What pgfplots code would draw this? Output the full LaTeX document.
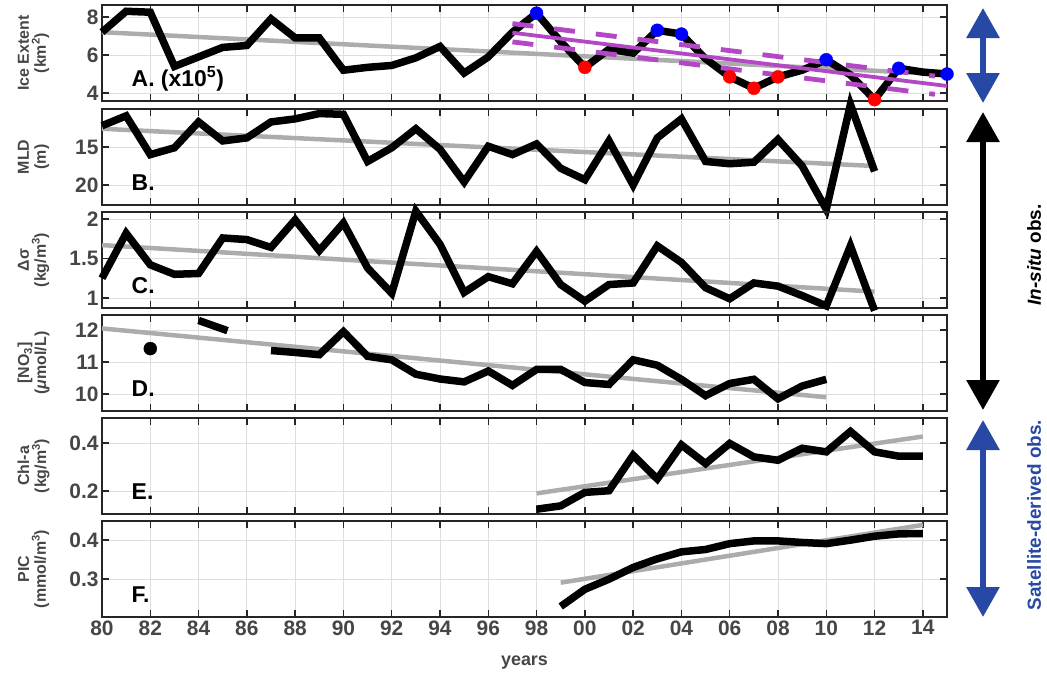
\documentclass[border=0pt]{standalone}
\usepackage{pgfplots}
\pgfplotsset{compat=1.18}
\usepackage{fontspec}
\setmainfont{Liberation Sans}
\usetikzlibrary{arrows.meta}
\definecolor{trend}{RGB}{172,172,172}
\definecolor{mag}{RGB}{178,72,196}
\definecolor{arrblue}{RGB}{40,72,165}
\definecolor{lab}{RGB}{70,70,70}
\pgfplotsset{
  panel/.style={
    scale only axis, width=845bp, height=96bp,
    xmin=80, xmax=115,
    xtick={80,82,...,114},
    xticklabels={},
    grid=major,
    major grid style={line width=0.8bp, black!13},
    axis line style={line width=1.4bp, black!85},
    major tick style={line width=1.4bp, black!85},
    major tick length=7bp,
    tick align=inside,
    clip=false,
    anchor=north west,
    /pgf/number format/assume math mode=true,
    ticklabel style={font=\fontsize{21}{21}\selectfont\bfseries, color=lab},
    ylabel style={at={(axis description cs:-0.081,0.5)}, anchor=center, align=center,
      font=\fontsize{16}{17}\selectfont\bfseries, color=lab},
  },
  blk/.style={black, line width=7.5bp, no markers},
  trd/.style={trend, line width=4.5bp, no markers},
}
\newcommand{\plabel}[1]{\node[anchor=west, font=\fontsize{23}{23}\selectfont\bfseries] at (axis description cs:0.031,0.23) {#1};}
\begin{document}
\begin{tikzpicture}
\path[use as bounding box] (0,0) rectangle (1047bp,-677bp);

% ---------- A ----------
\begin{axis}[panel, at={(102bp,-5bp)}, ymin=3.58, ymax=8.63, ytick={4,6,8},
  ylabel={Ice Extent\\(km\textsuperscript{2})}]
\addplot[trd] coordinates {(80,7.2) (115,4.98)};
\addplot[blk] coordinates {
(80,7.2) (81,8.3) (82,8.25) (83,5.4) (84,5.9) (85,6.4) (86,6.5) (87,7.9) (88,6.9) (89,6.9)
(90,5.2) (91,5.35) (92,5.45) (93,5.85) (94,6.45) (95,5.05) (96,5.9) (97,7.2) (98,8.2) (99,6.7)
(100,5.35) (101,6.3) (102,6.1) (103,7.3) (104,7.1) (105,5.8) (106,4.85) (107,4.25) (108,4.85) (109,5.2)
(110,5.75) (111,4.95) (112,3.65) (113,5.3) (114,5.1) (115,5.0)};
\addplot[mag, line width=3.8bp, no markers] coordinates {(97,7.17) (115,4.37)};
\addplot[mag, line width=4.8bp, no markers, dash pattern=on 21bp off 21bp] coordinates {(97,7.65) (114.5,4.89)};
\addplot[mag, line width=4.8bp, no markers, dash pattern=on 21bp off 21bp] coordinates {(97,6.69) (114.5,3.93)};
\addplot[only marks, mark=*, mark size=6.5bp, blue, mark options={fill=blue, draw=blue}] coordinates {
(98,8.2) (103,7.3) (104,7.1) (110,5.75) (113,5.3) (115,5.0)};
\addplot[only marks, mark=*, mark size=6.5bp, red, mark options={fill=red, draw=red}] coordinates {
(100,5.35) (106,4.85) (107,4.25) (108,4.85) (112,3.65)};
\plabel{A. (x10\textsuperscript{5})}
\end{axis}

% ---------- B ----------
\begin{axis}[panel, at={(102bp,-109bp)}, y dir=reverse, ymin=10, ymax=22.63, ytick={15,20},
  ylabel={MLD\\(m)}]
\addplot[trd] coordinates {(80,12.6) (112,17.5)};
\addplot[blk] coordinates {
(80,12.2) (81,10.9) (82,16.0) (83,15.1) (84,11.7) (85,14.2) (86,13.8) (87,11.7) (88,11.3) (89,10.6)
(90,10.7) (91,16.9) (92,15.1) (93,12.6) (94,15.3) (95,19.6) (96,14.9) (97,16.0) (98,14.6) (99,17.8)
(100,19.3) (101,14.2) (102,20.0) (103,13.8) (104,11.3) (105,16.9) (106,17.2) (107,17.0) (108,14.0) (109,17.5)
(110,23.2) (111,9.4) (112,18.2)};
\plabel{B.}
\end{axis}

% ---------- C ----------
\begin{axis}[panel, at={(102bp,-212bp)}, ymin=0.873, ymax=2.089, ytick={1,1.5,2},
  ylabel={Δσ\\(kg/m\textsuperscript{3})}]
\addplot[trd] coordinates {(80,1.67) (112,1.08)};
\addplot[blk] coordinates {
(80,1.25) (81,1.82) (82,1.42) (83,1.3) (84,1.31) (85,1.76) (86,1.74) (87,1.64) (88,1.99) (89,1.6)
(90,1.95) (91,1.38) (92,1.06) (93,2.1) (94,1.68) (95,1.07) (96,1.27) (97,1.18) (98,1.59) (99,1.17)
(100,0.96) (101,1.17) (102,1.19) (103,1.66) (104,1.45) (105,1.13) (106,0.99) (107,1.19) (108,1.15) (109,1.03)
(110,0.9) (111,1.66) (112,0.84)};
\plabel{C.}
\end{axis}

% ---------- D ----------
\begin{axis}[panel, at={(102bp,-315bp)}, ymin=9.47, ymax=12.47, ytick={10,11,12},
  ylabel={[NO\textsubscript{3}]\\(\textit{μ}mol/L)}]
\addplot[trd] coordinates {(80,12.05) (110,9.9)};
\addplot[only marks, mark=*, mark size=6.5bp, black] coordinates {(82,11.42)};
\addplot[blk] coordinates {(84,12.3) (85.2,11.98)};
\addplot[blk] coordinates {
(87,11.36) (88,11.3) (89,11.23) (90,11.95) (91,11.18) (92,11.07) (93,10.62) (94,10.47) (95,10.38) (96,10.72)
(97,10.27) (98,10.77) (99,10.77) (100,10.36) (101,10.3) (102,11.07) (103,10.9) (104,10.46) (105,9.95) (106,10.33)
(107,10.46) (108,9.85) (109,10.25) (110,10.46)};
\plabel{D.}
\end{axis}

% ---------- E ----------
\begin{axis}[panel, at={(102bp,-418bp)}, ymin=0.104, ymax=0.504, ytick={0.2,0.4},
  ylabel={Chl-a\\(kg/m\textsuperscript{3})}]
\addplot[trd] coordinates {(98,0.19) (114,0.427)};
\addplot[blk] coordinates {
(98,0.124) (99,0.138) (100,0.194) (101,0.201) (102,0.349) (103,0.25) (104,0.392) (105,0.314) (106,0.398) (107,0.342)
(108,0.328) (109,0.378) (110,0.363) (111,0.448) (112,0.363) (113,0.345) (114,0.345)};
\plabel{E.}
\end{axis}

% ---------- F ----------
\begin{axis}[panel, at={(102bp,-521bp)}, ymin=0.203, ymax=0.449, ytick={0.3,0.4},
  ylabel={PIC\\(mmol/m\textsuperscript{3})},
  xticklabels={80,82,84,86,88,90,92,94,96,98,00,02,04,06,08,10,12,14},
  xlabel={years},
  xlabel style={font=\fontsize{18}{18}\selectfont\bfseries, color=lab, yshift=-14bp}]
\addplot[trd] coordinates {(99,0.291) (114,0.439)};
\addplot[blk] coordinates {
(99,0.23) (100,0.274) (101,0.30) (102,0.33) (103,0.352) (104,0.37) (105,0.376) (106,0.391) (107,0.398) (108,0.398)
(109,0.394) (110,0.391) (111,0.40) (112,0.41) (113,0.416) (114,0.417)};
\plabel{F.}
\end{axis}

% ---------- right-hand arrows and texts ----------
\draw[arrblue, line width=6bp, {Triangle[length=30bp,width=32bp]}-{Triangle[length=30bp,width=32bp]}]
  (983bp,-8bp) -- (983bp,-103bp);
\draw[black, line width=6bp, {Triangle[length=30bp,width=32bp]}-{Triangle[length=30bp,width=32bp]}]
  (983bp,-112bp) -- (983bp,-410bp);
\draw[arrblue, line width=6bp, {Triangle[length=30bp,width=32bp]}-{Triangle[length=30bp,width=32bp]}]
  (983bp,-420bp) -- (983bp,-617bp);
\node[rotate=90, font=\fontsize{19}{19}\selectfont\bfseries] at (1034bp,-255bp) {\textit{In-situ} obs.};
\node[rotate=90, text=arrblue, font=\fontsize{19}{19}\selectfont\bfseries] at (1034bp,-515bp) {Satellite-derived obs.};
\end{tikzpicture}
\end{document}
